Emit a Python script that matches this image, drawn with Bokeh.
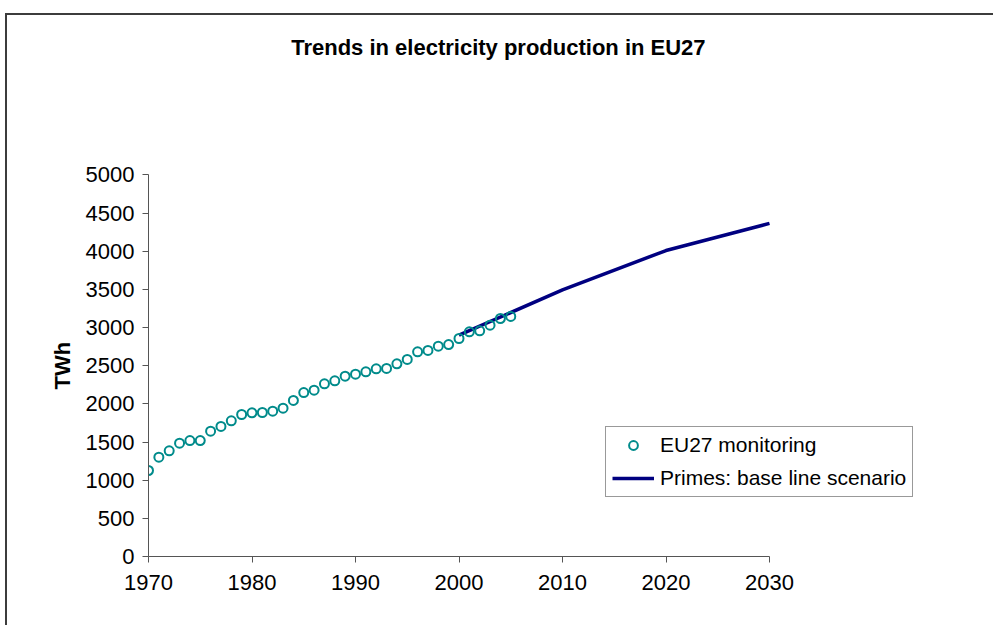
from bokeh.plotting import figure
from bokeh.models import Range1d, FixedTicker, Legend, LegendItem, Label, Title
from bokeh.embed import file_html
from bokeh.resources import INLINE

# ---- data ----
mon_years = list(range(1970, 2006))
mon_values = [1127, 1301, 1385, 1485, 1520, 1520, 1642, 1704, 1778, 1861,
              1883, 1887, 1904, 1944, 2045, 2149, 2180, 2263, 2303, 2363,
              2390, 2420, 2460, 2465, 2525, 2582, 2683, 2700, 2756, 2778,
              2857, 2945, 2958, 3032, 3119, 3146]
primes_years = [2000, 2010, 2020, 2030]
primes_values = [2900, 3495, 4010, 4365]
x_ticks = [1970, 1980, 1990, 2000, 2010, 2020, 2030]
y_ticks = list(range(0, 5001, 500))

FONT = "Liberation Sans"

p = figure(width=988, height=612, output_backend="svg", toolbar_location=None,
           x_range=Range1d(1970, 2050), y_range=Range1d(0, 7090),
           min_border_left=141, min_border_right=19, min_border_top=0,
           min_border_bottom=71)
p.styles = {"margin-left": "5px", "margin-top": "13px",
            "border-top": "2px solid #3c3c3c", "border-left": "2px solid #3c3c3c"}
p.outline_line_color = None
p.xgrid.visible = False
p.ygrid.visible = False
p.background_fill_color = "white"
p.border_fill_color = "white"

for ax in (p.xaxis[0], p.yaxis[0]):
    ax.axis_line_color = "#555555"
    ax.major_tick_line_color = "#555555"
    ax.major_tick_in = 0
    ax.major_tick_out = 6
    ax.minor_tick_line_color = None
    ax.major_label_text_font = FONT
    ax.major_label_text_font_size = "22px"
    ax.major_label_text_color = "black"
p.yaxis.major_label_standoff = 8
p.xaxis.major_label_standoff = 12

p.xaxis.ticker = FixedTicker(ticks=x_ticks)
p.yaxis.ticker = FixedTicker(ticks=y_ticks)
p.xaxis.bounds = (1970, 2030)
p.yaxis.bounds = (0, 5000)

ytitle = Title(text="TWh", align="left", offset=167, text_font=FONT,
               text_font_style="bold", text_font_size="22px", text_color="black",
               standoff=16)
p.add_layout(ytitle, "left")

r_line = p.line(primes_years, primes_values, line_color="#000080", line_width=3.5)
r_pts = p.scatter(mon_years, mon_values, marker="circle", size=9,
                  fill_color=None, line_color="#008B8B", line_width=2)

legend = Legend(items=[LegendItem(label="EU27 monitoring", renderers=[r_pts]),
                       LegendItem(label="Primes: base line scenario", renderers=[r_line])],
                location=(457, 59))
legend.label_text_font = FONT
legend.label_text_font_size = "21px"
legend.label_text_color = "black"
legend.glyph_width = 42
legend.glyph_height = 22
legend.label_height = 22
legend.label_standoff = 6
legend.spacing = 9
legend.padding = 6
legend.margin = 0
legend.border_line_color = "#333333"
legend.border_line_width = 1
legend.background_fill_alpha = 1
p.add_layout(legend)

title = Label(x=2004.1, y=6671, text="Trends in electricity  production in EU27",
              text_font=FONT, text_font_style="bold", text_font_size="22px",
              text_align="center", text_baseline="middle", text_color="black")
p.add_layout(title)

open("out.html", "w").write(file_html(p, INLINE))
